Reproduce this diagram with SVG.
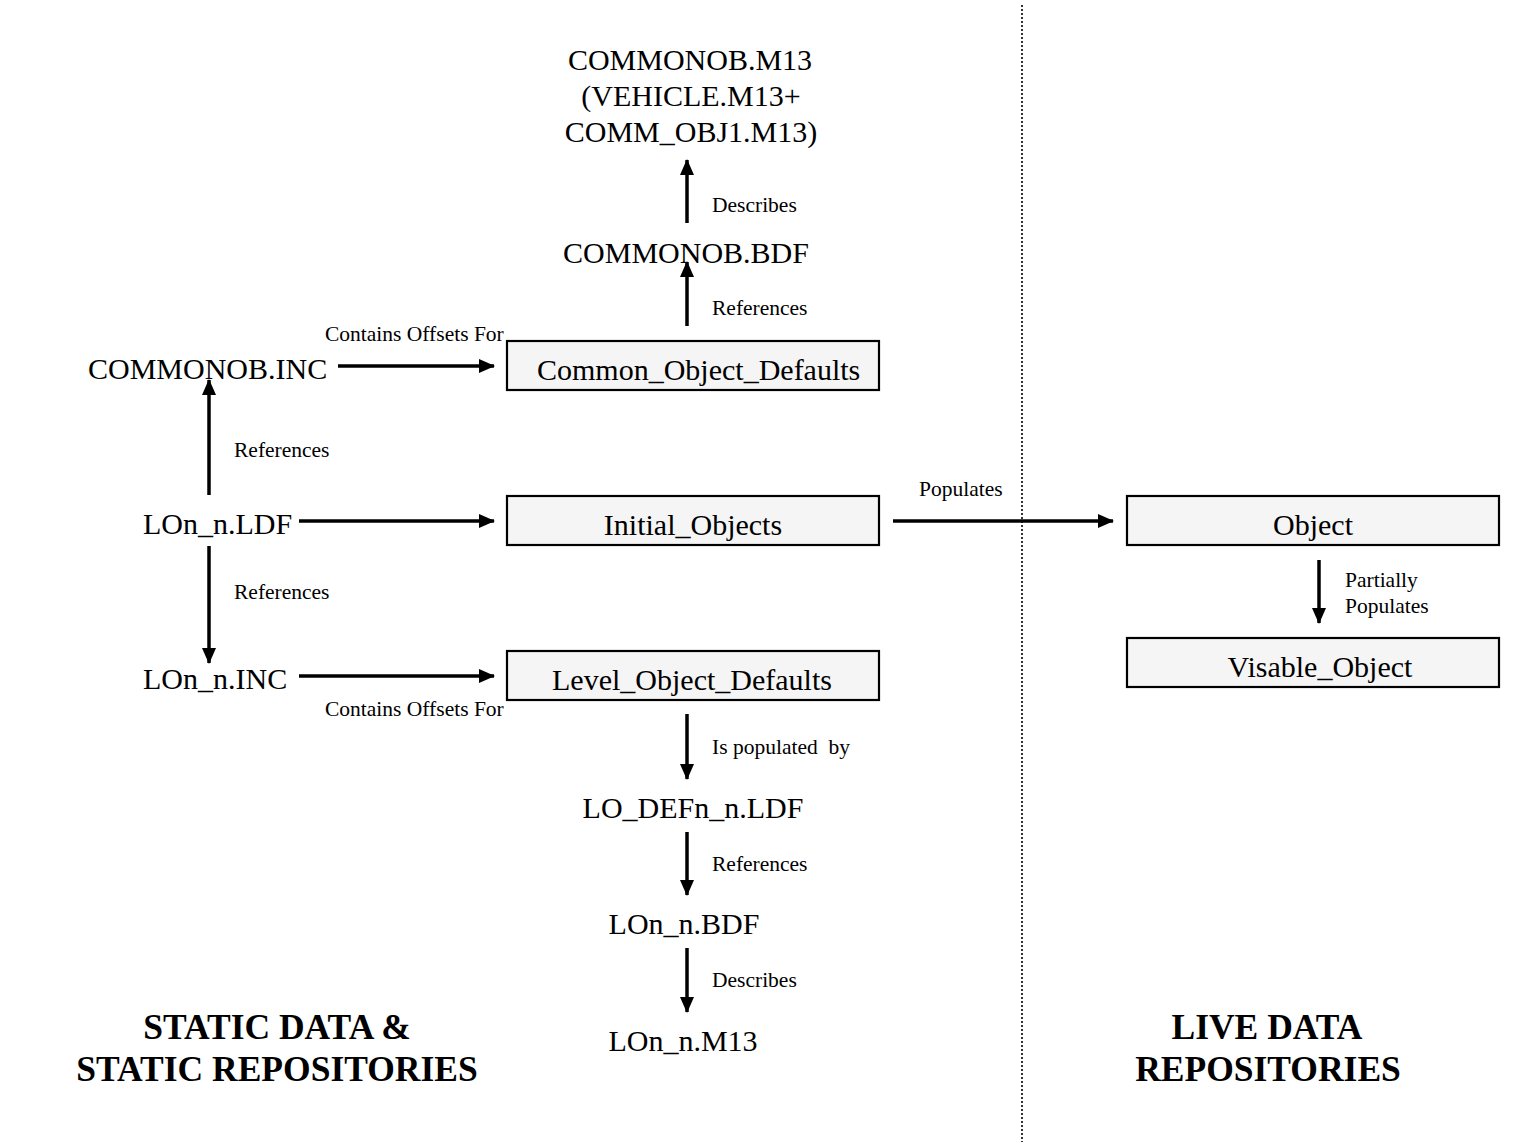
<svg xmlns="http://www.w3.org/2000/svg" width="1530" height="1148" viewBox="0 0 1530 1148">
<style>
.t{font-family:"Liberation Serif","Times New Roman",serif;font-size:30px;fill:#000}
.s{font-family:"Liberation Serif","Times New Roman",serif;font-size:21.5px;fill:#000}
.h{font-family:"Liberation Serif","Times New Roman",serif;font-size:35.5px;font-weight:bold;fill:#000}
.box{fill:#f5f5f5;stroke:#000;stroke-width:2.2}
.c{stroke:#000;stroke-width:3.5;fill:none;marker-end:url(#ah)}
.mid{text-anchor:middle}
</style>
<defs>
<marker id="ah" markerUnits="userSpaceOnUse" markerWidth="16" markerHeight="14" refX="15" refY="7" orient="auto">
<path d="M0,0 L16,7 L0,14 z" fill="#000"/>
</marker>
</defs>
<rect width="1530" height="1148" fill="#fff"/>
<line x1="1022" y1="5" x2="1022" y2="1142" stroke="#000" stroke-width="1.6" stroke-dasharray="2,2"/>

<g id="connectors">
<line class="c" x1="687" y1="223" x2="687" y2="160"/>
<line class="c" x1="687" y1="326" x2="687" y2="262"/>
<line class="c" x1="338" y1="366" x2="494" y2="366"/>
<line class="c" x1="209" y1="495" x2="209" y2="380"/>
<line class="c" x1="299" y1="521" x2="494" y2="521"/>
<line class="c" x1="209" y1="546" x2="209" y2="663"/>
<line class="c" x1="299" y1="676" x2="494" y2="676"/>
<line class="c" x1="687" y1="714" x2="687" y2="779"/>
<line class="c" x1="687" y1="832" x2="687" y2="895"/>
<line class="c" x1="687" y1="948" x2="687" y2="1012"/>
<line class="c" x1="893" y1="521" x2="1113" y2="521"/>
<line class="c" x1="1319" y1="560" x2="1319" y2="623"/>
<text class="s" x="712" y="212">Describes</text>
<text class="s" x="712" y="315">References</text>
<text class="s" x="325" y="341">Contains Offsets For</text>
<text class="s" x="234" y="457">References</text>
<text class="s" x="234" y="599">References</text>
<text class="s" x="325" y="716">Contains Offsets For</text>
<text class="s" x="712" y="754" xml:space="preserve">Is populated  by</text>
<text class="s" x="712" y="871">References</text>
<text class="s" x="712" y="987">Describes</text>
<text class="s" x="919" y="496">Populates</text>
<text class="s" x="1345" y="587">Partially</text>
<text class="s" x="1345" y="613">Populates</text>
</g>

<g id="commonob_m13">
<text class="t mid" x="690" y="70">COMMONOB.M13</text>
<text class="t mid" x="691" y="106">(VEHICLE.M13+</text>
<text class="t mid" x="691" y="142">COMM_OBJ1.M13)</text>
</g>
<g id="commonob_bdf"><text class="t mid" x="686" y="263">COMMONOB.BDF</text></g>
<g id="common_object_defaults">
<rect class="box" x="507" y="341" width="372" height="49"/>
<text class="t" x="537" y="380">Common_Object_Defaults</text>
</g>
<g id="commonob_inc"><text class="t" x="88" y="379">COMMONOB.INC</text></g>
<g id="lon_n_ldf"><text class="t" x="143" y="534">LOn_n.LDF</text></g>
<g id="initial_objects">
<rect class="box" x="507" y="496" width="372" height="49"/>
<text class="t mid" x="693" y="535">Initial_Objects</text>
</g>
<g id="lon_n_inc"><text class="t" x="143" y="689">LOn_n.INC</text></g>
<g id="level_object_defaults">
<rect class="box" x="507" y="651" width="372" height="49"/>
<text class="t mid" x="692" y="690">Level_Object_Defaults</text>
</g>
<g id="lo_defn_n_ldf"><text class="t mid" x="693" y="818">LO_DEFn_n.LDF</text></g>
<g id="lon_n_bdf"><text class="t mid" x="684" y="934">LOn_n.BDF</text></g>
<g id="lon_n_m13"><text class="t mid" x="683" y="1051">LOn_n.M13</text></g>
<g id="object">
<rect class="box" x="1127" y="496" width="372" height="49"/>
<text class="t mid" x="1313" y="535">Object</text>
</g>
<g id="visable_object">
<rect class="box" x="1127" y="638" width="372" height="49"/>
<text class="t mid" x="1320" y="677">Visable_Object</text>
</g>
<g id="static_heading">
<text class="h mid" x="277" y="1039">STATIC DATA &amp;</text>
<text class="h mid" x="277" y="1081">STATIC REPOSITORIES</text>
</g>
<g id="live_heading">
<text class="h mid" x="1267" y="1039">LIVE DATA</text>
<text class="h mid" x="1268" y="1081">REPOSITORIES</text>
</g>
</svg>
